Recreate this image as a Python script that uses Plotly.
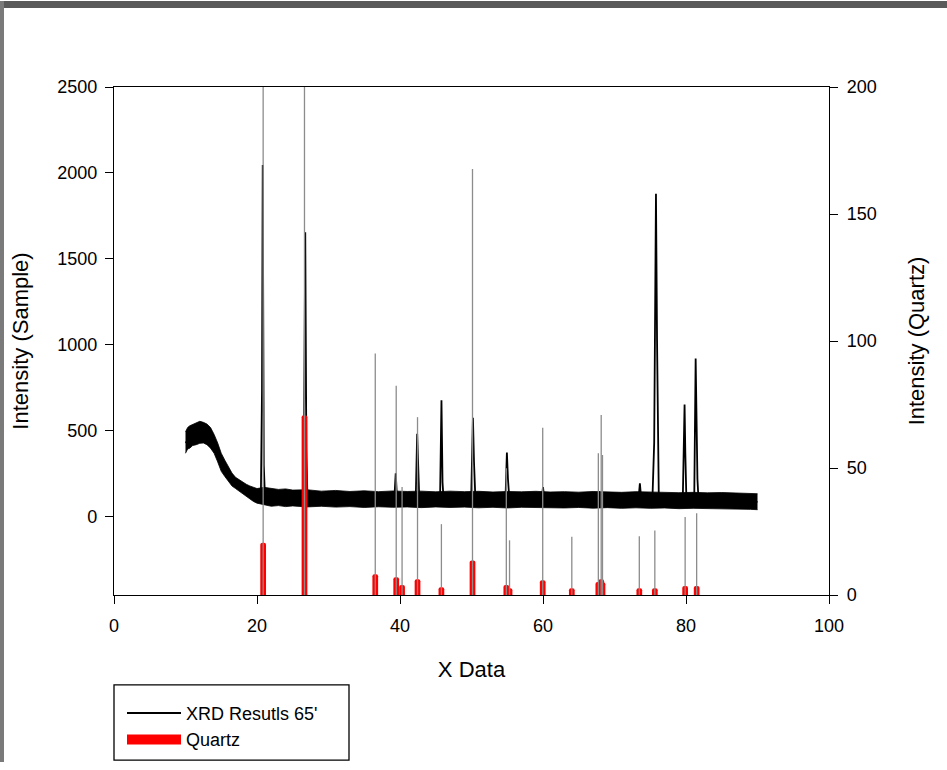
import plotly.graph_objects as go

# ---- XRD scan (left axis): peak profile through the centre of the trace ----
xrd_x = [10.0, 11.0, 12.0, 13.0, 14.0, 15.0, 16.0, 17.0, 18.0, 19.0, 20.0,
         20.55, 20.7, 20.8, 20.95, 21.1, 22.0, 24.0,
         26.45, 26.6, 26.75, 26.9, 27.05, 30.0, 34.0,
         36.4, 36.55, 36.7, 39.2, 39.4, 39.6,
         42.2, 42.4, 42.55, 42.7, 45.6, 45.8, 45.95, 46.1,
         49.95, 50.2, 50.35, 50.55, 54.75, 54.95, 55.1, 55.3,
         59.8, 60.0, 60.2, 67.6, 67.8, 68.0, 73.35, 73.55, 73.75,
         75.3, 75.55, 75.8, 75.95, 76.05, 76.2,
         79.55, 79.8, 79.9, 80.05, 80.6, 81.15, 81.35, 81.45, 81.6, 81.75,
         85.0, 90.0]
xrd_y = [430, 475, 490, 480, 410, 310, 240, 195, 165, 140, 120,
         150, 740, 2046, 300, 130, 118, 112,
         115, 600, 1655, 400, 115, 105, 102,
         102, 140, 102, 100, 253, 100,
         100, 483, 280, 100, 100, 678, 200, 100,
         100, 577, 320, 100, 100, 375, 220, 100,
         100, 174, 100, 100, 150, 100, 100, 195, 100,
         100, 430, 1879, 1029, 500, 100,
         100, 653, 380, 110, 85, 95, 921, 640, 220, 100,
         95, 88]

# ---- counting-noise band of the scan (lower / upper edge) ----
band_x = [10.0, 10.3, 10.6, 11.0, 11.5, 12.0, 12.5, 13.0, 13.5, 14.0, 14.5,
          15.0, 15.5, 16.0, 16.5, 17.0, 17.5, 18.0, 18.5, 19.0, 19.5, 20.0,
          21.0, 22.0, 23.0, 24.0, 25.0, 27.0, 29.0, 31.0, 33.0, 35.0, 37.0,
          39.0, 41.0, 43.0, 45.0, 47.0, 49.0, 51.0, 53.0, 55.0, 57.0, 59.0,
          61.0, 63.0, 65.0, 67.0, 69.0, 71.0, 73.0, 75.0, 77.0, 79.0, 81.0,
          83.0, 85.0, 87.0, 89.0, 90.0]
band_lo = [370, 395, 400, 415, 420, 428, 430, 420, 400, 370, 320,
           265, 235, 205, 180, 165, 150, 130, 115, 100, 90, 80,
           72, 62, 66, 60, 64, 58, 62, 57, 60, 55, 59, 56, 58, 54,
           58, 55, 57, 53, 56, 52, 56, 54, 55, 52, 55, 51, 54, 50,
           53, 50, 52, 48, 50, 49, 47, 48, 44, 42]
band_hi = [495, 520, 530, 538, 548, 556, 550, 540, 520, 480, 430,
           370, 330, 290, 255, 230, 215, 200, 190, 180, 172, 165,
           172, 165, 160, 163, 156, 158, 150, 154, 148, 152, 147,
           151, 148, 150, 146, 150, 147, 149, 145, 148, 146, 149,
           145, 147, 144, 148, 146, 143, 147, 144, 145, 141, 143,
           140, 142, 139, 137, 135]

# ---- Quartz reference pattern ----
quartz_pos = [20.86, 26.64, 36.54, 39.47, 40.29, 42.45, 45.79, 50.14, 54.87,
              55.32, 59.96, 64.03, 67.74, 68.14, 68.32, 73.47, 75.64, 79.88, 81.49]
quartz_int = [20.6, 70.8, 8.2, 7.0, 3.9, 6.2, 3.1, 13.6, 3.9,
              2.7, 5.8, 2.7, 5.1, 6.2, 5.0, 2.7, 2.7, 3.5, 3.5]
# drop-line tops of the reference sticks, in sample-intensity units
stick_top = [3000, 3000, 950, 763, 174, 580, -42, 2023, 283,
             -136, 519, -116, 370, 592, 360, -113, -79, 0, 21]

y_left_range = [-454, 2500]
y_left_ticks = [0, 500, 1000, 1500, 2000, 2500]

FONT = "Liberation Sans, Arial, sans-serif"

fig = go.Figure()

# noise band as a filled strip
fig.add_trace(go.Scatter(x=band_x, y=band_lo, mode="lines",
                         line=dict(color="black", width=0.8),
                         showlegend=False, legendgroup="xrd", hoverinfo="skip"))
fig.add_trace(go.Scatter(x=band_x, y=band_hi, mode="lines", fill="tonexty",
                         fillcolor="black", line=dict(color="black", width=0.8),
                         showlegend=False, legendgroup="xrd", hoverinfo="skip"))
# scan line with the diffraction peaks
fig.add_trace(go.Scatter(x=xrd_x, y=xrd_y, mode="lines",
                         line=dict(color="black", width=1.8),
                         name="XRD Resutls 65'", legendgroup="xrd"))

# Quartz bars on the right axis
fig.add_trace(go.Bar(x=quartz_pos, y=quartz_int, width=0.8, yaxis="y2",
                     marker=dict(color="red", line_width=0, cornerradius=3),
                     showlegend=False, legendgroup="quartz", name="Quartz"))
fig.add_trace(go.Scatter(x=[None], y=[None], mode="lines", yaxis="y2",
                         line=dict(color="red", width=20),
                         name="Quartz", legendgroup="quartz"))

# grey drop lines of the reference sticks
sx, sy = [], []
for p, h in zip(quartz_pos, stick_top):
    sx += [p, p, None]
    sy += [y_left_range[0], h, None]
fig.add_trace(go.Scatter(x=sx, y=sy, mode="lines", yaxis="y3",
                         line=dict(color="#8c8c8c", width=1.3),
                         showlegend=False, hoverinfo="skip"))

W, H = 947, 770
L, R, T, B = 114, 118, 87, 169
pw, ph = W - L - R, H - T - B


def px(x):
    return (x - L) / pw


def py(y):
    return (H - B - y) / ph


axis_common = dict(showgrid=False, zeroline=False, showline=True,
                   linecolor="black", linewidth=1.3, ticks="outside",
                   ticklen=8, tickcolor="black", tickwidth=1.3,
                   tickfont=dict(family=FONT, size=18, color="black"))

fig.update_layout(
    width=W, height=H, autosize=False,
    margin=dict(l=L, r=R, t=T, b=B),
    paper_bgcolor="white", plot_bgcolor="white",
    font=dict(family=FONT, color="black"),
    barmode="overlay",
    xaxis=dict(range=[0, 100], tick0=0, dtick=20, mirror=True,
               ticklabelstandoff=6,
               title=dict(text="X Data", font=dict(size=22), standoff=26),
               **axis_common),
    yaxis=dict(range=y_left_range, tickvals=y_left_ticks, ticklabelstandoff=4,
               title=dict(text="Intensity (Sample)", font=dict(size=22), standoff=22),
               **axis_common),
    yaxis2=dict(range=[0, 200], tick0=0, dtick=50, overlaying="y", side="right",
                ticklabelstandoff=5,
                title=dict(text="Intensity (Quartz)", font=dict(size=22), standoff=32),
                **axis_common),
    yaxis3=dict(range=y_left_range, overlaying="y", visible=False),
    legend=dict(x=px(122), y=py(702), xanchor="left", yanchor="top",
                bgcolor="rgba(0,0,0,0)", borderwidth=0, itemwidth=54,
                font=dict(family=FONT, size=18, color="black"),
                tracegroupgap=0),
    shapes=[
        # legend frame
        dict(type="rect", xref="paper", yref="paper",
             x0=px(114), x1=px(349), y0=py(768), y1=py(692),
             line=dict(color="black", width=1.3), fillcolor="rgba(0,0,0,0)"),
        # window frame
        dict(type="rect", xref="paper", yref="paper",
             x0=px(0), x1=px(W), y0=py(7), y1=py(0),
             line=dict(width=0), fillcolor="#5a5a5a"),
        dict(type="rect", xref="paper", yref="paper",
             x0=px(0), x1=px(4), y0=py(H), y1=py(0),
             line=dict(width=0), fillcolor="#7a7a7a"),
    ],
)

fig.write_html("out.html")
